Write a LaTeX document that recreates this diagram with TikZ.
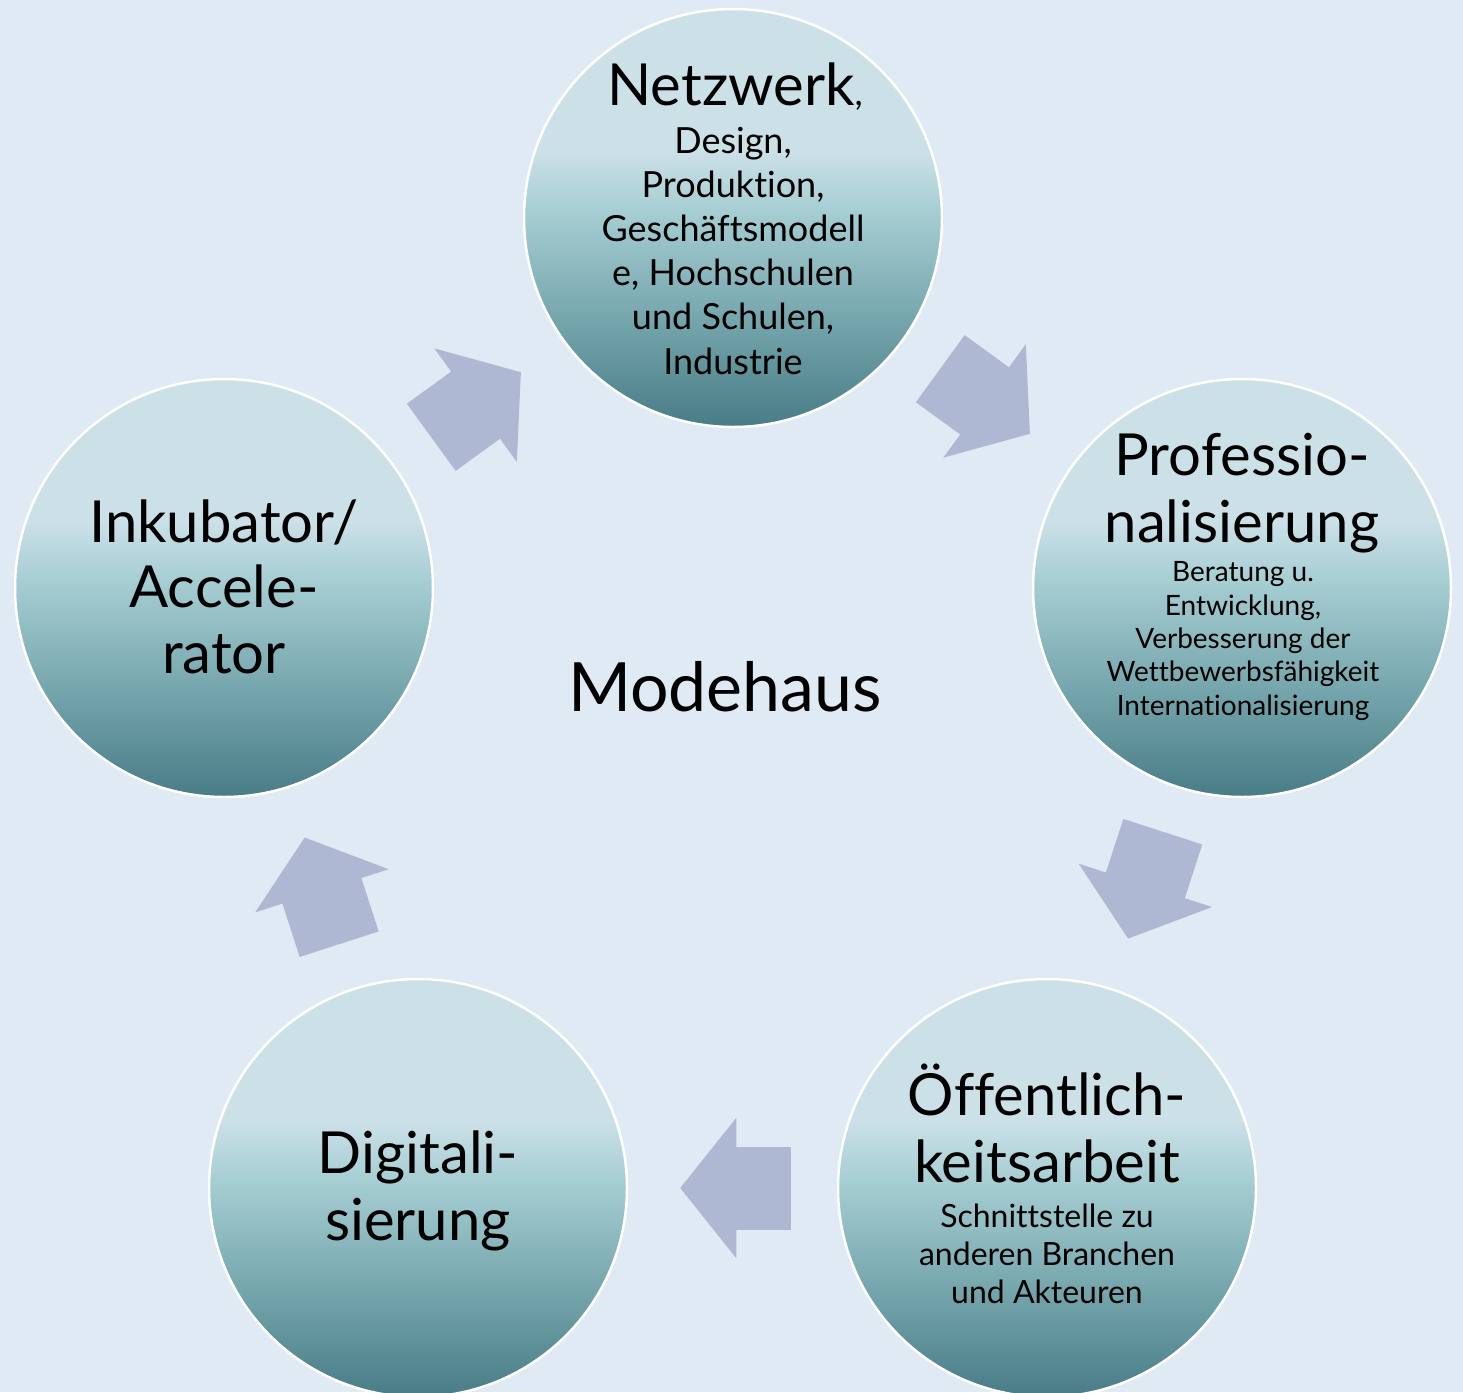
\documentclass[tikz,border=0pt]{standalone}
\usepackage{fontspec}
\setmainfont{Lato}[Ligatures=NoCommon]
\usetikzlibrary{calc, arrows.meta}

\definecolor{backblue}{RGB}{224,234,244}
\definecolor{arrowgray}{RGB}{175,184,210}
\definecolor{teallight}{RGB}{204,224,232}
\definecolor{tealcyan}{RGB}{166,206,211}
\definecolor{tealmid}{RGB}{118,166,173}
\definecolor{tealdark}{RGB}{72,124,134}

\pgfdeclareverticalshading{phaseshade}{100bp}{color(0bp)=(tealdark); color(25bp)=(tealdark); color(38bp)=(tealmid); color(51bp)=(tealcyan); color(58bp)=(teallight); color(100bp)=(teallight)}

\begin{document}
\begin{tikzpicture}[x=1pt, y=-1pt,
		phase/.style={circle, minimum size=418pt, inner sep=0pt, draw=white, line width=2.5pt, shading=phaseshade},
		flow/.style={draw=arrowgray, line width=83pt, -{Triangle[length=56pt, width=140pt, line width=2pt]}, shorten <=46pt, shorten >=52pt},
		title/.style={anchor=base, align=center, inner sep=0pt, font={\fontsize{58}{67}\selectfont}},
		subtext/.style={anchor=base, align=center, inner sep=0pt}]
			\def\W{1463};
			\def\H{1392};

			\fill[backblue] (0,0) rectangle (\W,\H);
			\useasboundingbox (0,0) rectangle (\W,\H);

			\begin{scope}
				\node[phase] (netz) at (733,218) {};
				\node[phase] (prof) at (1242,588) {};
				\node[phase] (oeff) at (1047,1188) {};
				\node[phase] (digi) at (418,1188) {};
				\node[phase] (inku) at (224,588) {};
			\end{scope}

			\begin{scope}
				\draw[flow] (netz) -- (prof);
				\draw[flow] (prof) -- (oeff);
				\draw[flow] (oeff) -- (digi);
				\draw[flow] (digi) -- (inku);
				\draw[flow] (inku) -- (netz);
			\end{scope}

			% the base anchor sits on the last line
			\begin{scope}
				\node[title] (netz-title) at (735,105) {Netzwerk{\fontsize{36}{44}\selectfont ,}};
				\node[subtext, font={\fontsize{36}{44.2}\selectfont}] (netz-sub) at (733,374) {Design,\\Produktion,\\Geschäftsmodell\\e, Hochschulen\\und Schulen,\\Industrie};

				\node[title] (prof-title) at (1242,542) {Professio-\\nalisierung};
				\node[subtext, font={\fontsize{28}{33.3}\selectfont}] (prof-sub) at (1243,715) {Beratung u.\\Entwicklung,\\Verbesserung der\\Wettbewerbsfähigkeit\\Internationalisierung};

				\node[title] (oeff-title) at (1047,1182) {Öffentlich-\\keitsarbeit};
				\node[subtext, font={\fontsize{32}{38}\selectfont}] (oeff-sub) at (1047,1303) {Schnittstelle zu\\anderen Branchen\\und Akteuren};

				\node[title] (digi-title) at (418,1240) {Digitali-\\sierung};

				\node[title, font={\fontsize{58}{65.5}\selectfont}] (inku-title) at (224,673) {Inkubator/\\Accele-\\rator};

				\node[title, font={\fontsize{68}{80}\selectfont}] (mode) at (725,711) {Modehaus};
			\end{scope}
		\end{tikzpicture}
\end{document}
